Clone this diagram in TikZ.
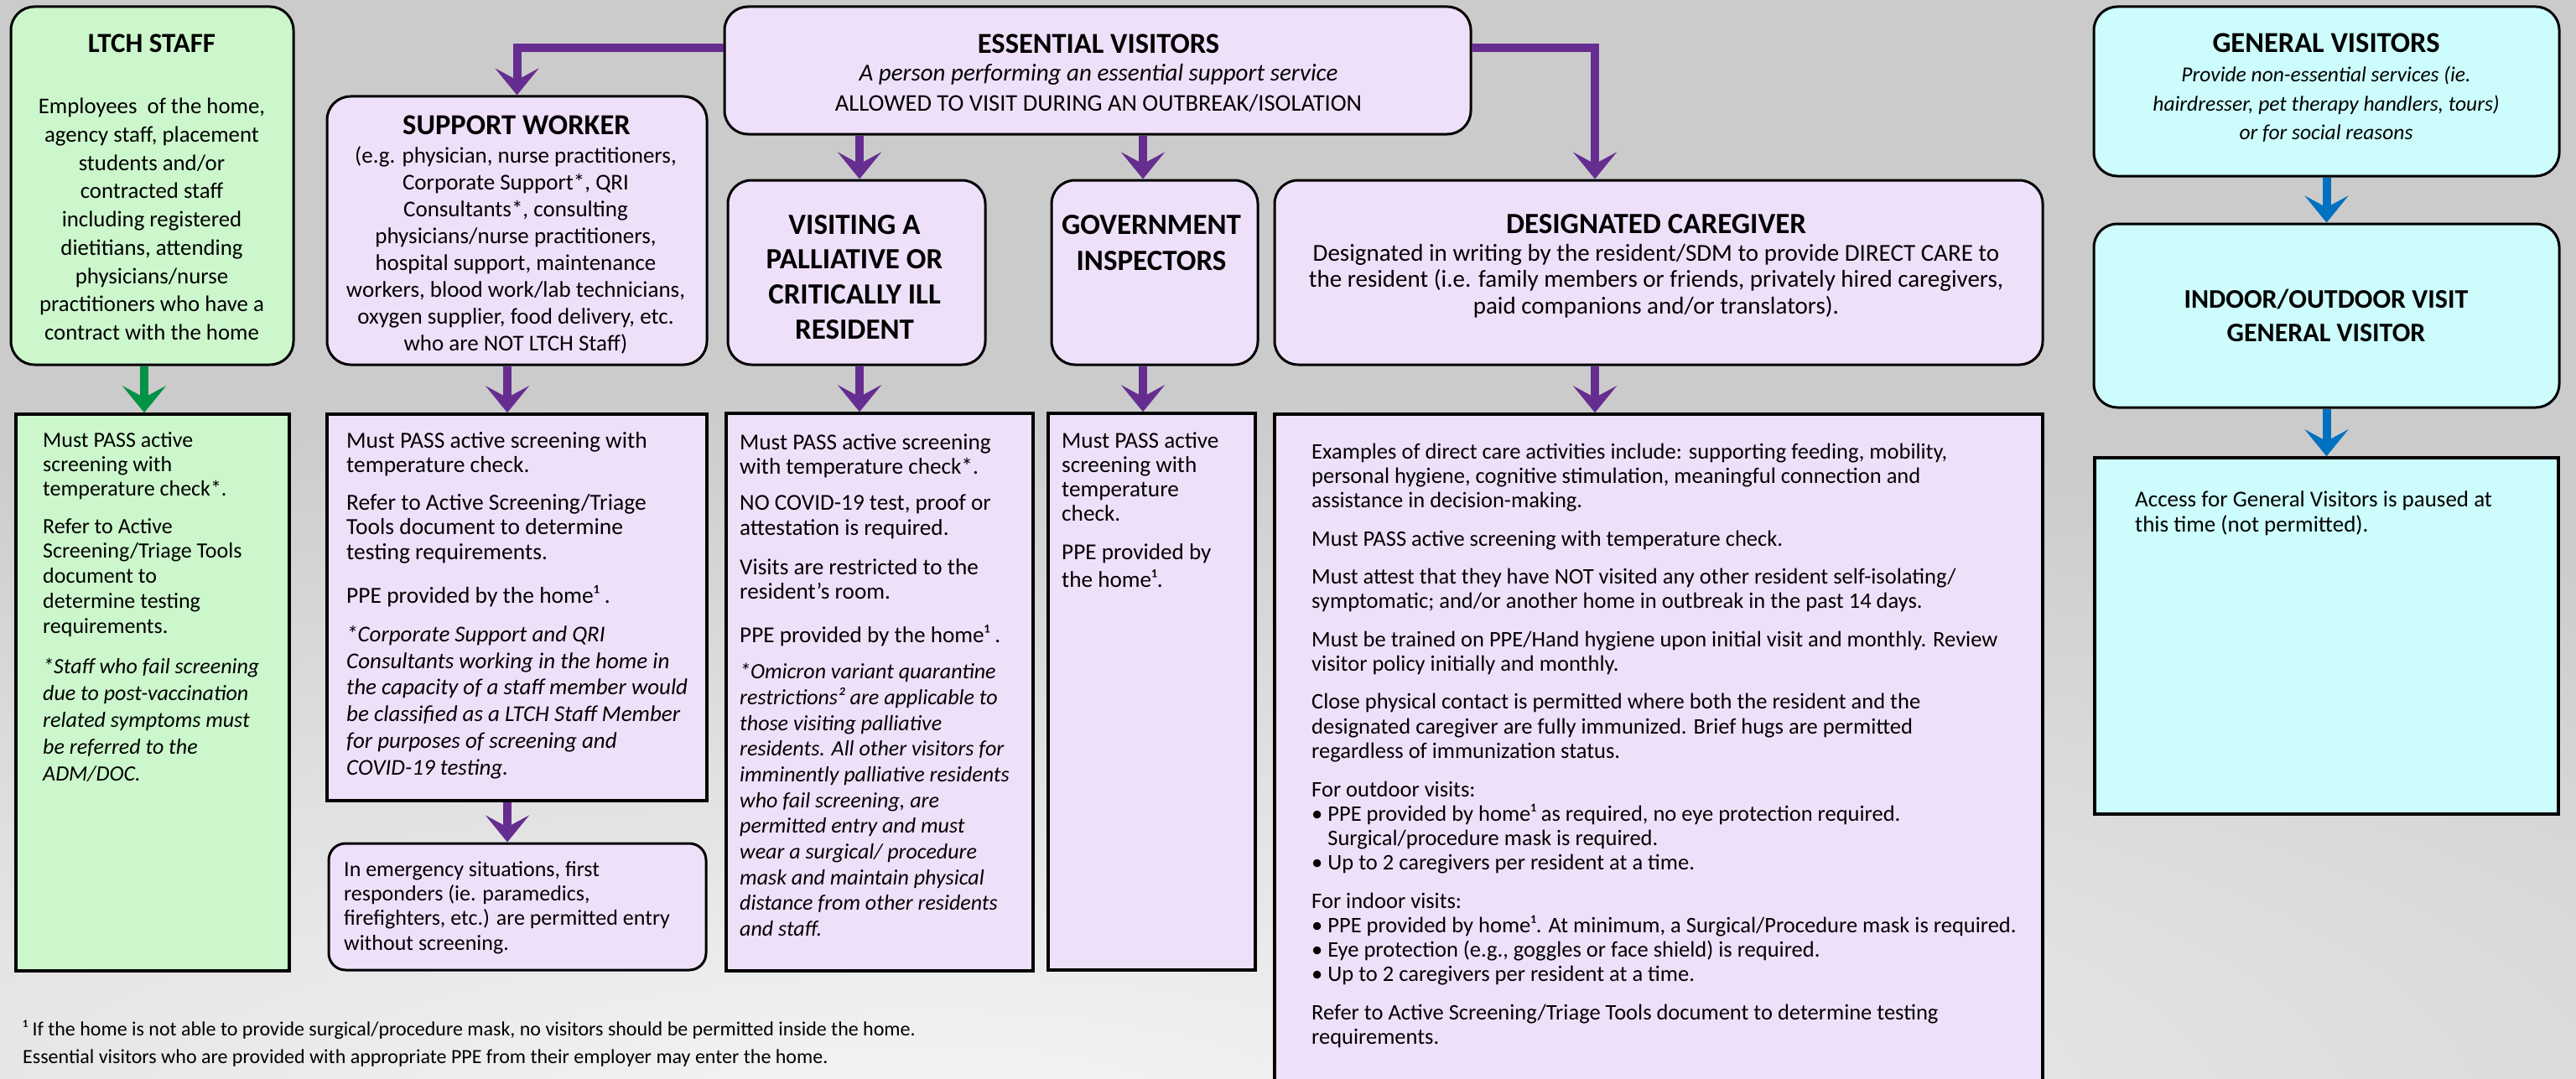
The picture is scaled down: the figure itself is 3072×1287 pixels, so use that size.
\documentclass[tikz,border=0pt]{standalone}
\usepackage{fontspec}
\setmainfont{Carlito}
\usetikzlibrary{arrows.meta,calc}
\definecolor{bgc}{HTML}{CBCBCB}
\definecolor{gfill}{HTML}{CCF7CC}
\definecolor{pfill}{HTML}{EFE0FA}
\definecolor{cfill}{HTML}{CCFCFC}
\definecolor{parr}{HTML}{662D91}
\definecolor{garr}{HTML}{009245}
\definecolor{barr}{HTML}{0070C0}
\newcommand\fsz[2]{\fontsize{#1}{#2}\selectfont}
\begin{document}
\begin{tikzpicture}[x=1pt,y=-1pt,
  rbox/.style={draw=black, line width=3pt, rounded corners=28pt, inner sep=0pt},
  sbox/.style={draw=black, line width=3.5pt, inner sep=0pt},
  arr/.style={line width=10pt, -{Stealth[length=32pt,width=52pt,inset=14pt]}},
  ttl/.style={font=\bfseries\fsz{34.5}{42}, align=center, inner sep=0pt},
  ctxt/.style={align=center, inner sep=0pt, anchor=north},
  ltxt/.style={align=left, inner sep=0pt, anchor=north west},
]
\useasboundingbox (0,0) rectangle (3072,1287);
\clip (0,0) rectangle (3072,1287);
% background
\fill[bgc] (0,0) rectangle (3072,1287);
\shade[inner color=white!96!black, outer color=bgc] (1100,1330) ellipse [x radius=3200, y radius=860];

% ---------- boxes ----------
\node[rbox, fill=gfill, minimum width=337pt, minimum height=427pt] (ltch) at (181.5,221.5) {};
\node[sbox, fill=gfill, minimum width=326pt, minimum height=664pt] (ltchL) at (182,826) {};
\node[rbox, fill=pfill, minimum width=453pt, minimum height=320pt] (sw) at (616.5,275) {};
\node[sbox, fill=pfill, minimum width=453pt, minimum height=461pt] (swL) at (616.5,724.5) {};
\node[rbox, fill=pfill, rounded corners=20pt, minimum width=450pt, minimum height=151pt] (em) at (617,1081.5) {};
\node[rbox, fill=pfill, minimum width=890pt, minimum height=152pt] (ess) at (1309,84) {};
\node[rbox, fill=pfill, minimum width=307pt, minimum height=220pt] (pal) at (1021.5,325) {};
\node[sbox, fill=pfill, minimum width=366pt, minimum height=665pt] (palL) at (1049,825.5) {};
\node[rbox, fill=pfill, minimum width=246pt, minimum height=220pt] (gov) at (1377,325) {};
\node[sbox, fill=pfill, minimum width=247pt, minimum height=664pt] (govL) at (1373.5,825) {};
\node[rbox, fill=pfill, minimum width=916pt, minimum height=220pt] (des) at (1978,325) {};
\node[sbox, fill=pfill, minimum width=916pt, minimum height=806pt] (desL) at (1978,897) {};
\node[rbox, fill=cfill, minimum width=555pt, minimum height=202pt] (gen) at (2774.5,109) {};
\node[rbox, fill=cfill, minimum width=555pt, minimum height=219pt] (ind) at (2774.5,376.5) {};
\node[sbox, fill=cfill, minimum width=553pt, minimum height=425pt] (genL) at (2774.5,758.5) {};

% ---------- connectors ----------
\draw[arr, garr] ([xshift=-9.5pt]ltch.south) -- ([xshift=-9.5pt]ltch.south |- ltchL.north);
\draw[arr, parr] ([yshift=27pt]ess.west) -| (sw.north);
\draw[arr, parr] ([yshift=27pt]ess.east) -| ([xshift=-76pt]des.north);
\draw[arr, parr] ([xshift=3.5pt]pal.north |- ess.south) -- ([xshift=3.5pt]pal.north);
\draw[arr, parr] ([xshift=-14pt]gov.north |- ess.south) -- ([xshift=-14pt]gov.north);
\draw[arr, parr] ([xshift=3.5pt]pal.south) -- ([xshift=3.5pt]pal.south |- palL.north);
\draw[arr, parr] ([xshift=-14pt]gov.south) -- ([xshift=-14pt]gov.south |- govL.north);
\draw[arr, parr] ([xshift=-11.5pt]sw.south) -- ([xshift=-11.5pt]sw.south |- swL.north);
\draw[arr, parr] ([xshift=-11.5pt]swL.south) -- ([xshift=-11.5pt]swL.south |- em.north);
\draw[arr, parr] ([xshift=-76pt]des.south) -- ([xshift=-76pt]des.south |- desL.north);
\draw[arr, barr] (gen.south) -- (ind.north);
\draw[arr, barr] (ind.south) -- (genL.north);

% ---------- LTCH staff ----------
\node[ttl, font=\bfseries\fsz{33}{40}] (ltchT) at (181,52) {LTCH STAFF};
\node[ctxt, font=\fsz{26.8}{33.7}] (ltchB) at (181,117) {Employees\ \ of the home,\\agency staff, placement\\students and/or\\contracted staff\\including registered\\dietitians, attending\\physicians/nurse\\practitioners who have a\\contract with the home};
\node[ltxt, font=\fsz{26}{29.2}] (ltchP1) at (51,515) {Must PASS active\\screening with\\temperature check*.};
\node[ltxt, font=\fsz{26}{29.75}] (ltchP2) at (51,618) {Refer to Active\\Screening/Triage Tools\\document to\\determine testing\\requirements.};
\node[ltxt, font=\itshape\fsz{26}{32}] (ltchP3) at (51,785) {*Staff who fail screening\\due to post-vaccination\\related symptoms must\\be referred to the\\ADM/DOC.};

% ---------- Support worker ----------
\node[ttl] (swT) at (616,149) {SUPPORT WORKER};
\node[ctxt, font=\fsz{27}{31.9}] (swB) at (615,175) {(e.g. physician, nurse practitioners,\\Corporate Support*, QRI\\Consultants*, consulting\\physicians/nurse practitioners,\\hospital support, maintenance\\workers, blood work/lab technicians,\\oxygen supplier, food delivery, etc.\\who are NOT LTCH Staff)};
\node[ltxt, font=\fsz{27.5}{29}] (swP1) at (413,515) {Must PASS active screening with\\temperature check.};
\node[ltxt, font=\fsz{27.5}{29.5}] (swP2) at (413,589) {Refer to Active Screening/Triage\\Tools document to determine\\testing requirements.};
\node[ltxt, font=\fsz{27.5}{29}] (swP3) at (413,698) {PPE provided by the home¹ .};
\node[ltxt, font=\itshape\fsz{27}{31.8}] (swP4) at (413,746) {*Corporate Support and QRI\\Consultants working in the home in\\the capacity of a staff member would\\be classified as a LTCH Staff Member\\for purposes of screening and\\COVID-19 testing.};
\node[ltxt, font=\fsz{26}{29.3}] (emT) at (410,1027) {In emergency situations, first\\responders (ie. paramedics,\\firefighters, etc.) are permitted entry\\without screening.};

% ---------- Essential visitors ----------
\node[ttl] (essT) at (1310,52) {ESSENTIAL VISITORS};
\node[inner sep=0pt, font=\itshape\fsz{29}{32}] (essI) at (1310,89) {A person performing an essential support service};
\node[inner sep=0pt, font=\fsz{28.5}{32}] (essC) at (1310,123) {ALLOWED TO VISIT DURING AN OUTBREAK/ISOLATION};

% ---------- Palliative ----------
\node[ttl, anchor=north, font=\bfseries\fsz{35}{41.7}] (palT) at (1019,256) {VISITING A\\PALLIATIVE OR\\CRITICALLY ILL\\RESIDENT};
\node[ltxt, font=\fsz{27.2}{29}] (palP1) at (882,517) {Must PASS active screening\\with temperature check*.};
\node[ltxt, font=\fsz{27.2}{30}] (palP2) at (882,590) {NO COVID-19 test, proof or\\attestation is required.};
\node[ltxt, font=\fsz{27.2}{29}] (palP3) at (882,666) {Visits are restricted to the\\resident’s room.};
\node[ltxt, font=\fsz{27.2}{29}] (palP4) at (882,745) {PPE provided by the home¹ .};
\node[ltxt, font=\itshape\fsz{26}{30.7}] (palP5) at (882,791) {*Omicron variant quarantine\\restrictions² are applicable to\\those visiting palliative\\residents. All other visitors for\\imminently palliative residents\\who fail screening, are\\permitted entry and must\\wear a surgical/ procedure\\mask and maintain physical\\distance from other residents\\and staff.};

% ---------- Government inspectors ----------
\node[ttl, anchor=north, font=\bfseries\fsz{35}{43}] (govT) at (1373,256) {GOVERNMENT\\INSPECTORS};
\node[ltxt, font=\fsz{27.2}{29.3}] (govP1) at (1266,515) {Must PASS active\\screening with\\temperature\\check.};
\node[ltxt, font=\fsz{27.2}{33}] (govP2) at (1266,648) {PPE provided by\\the home¹.};

% ---------- Designated caregiver ----------
\node[ttl, font=\bfseries\fsz{35}{42}] (desT) at (1975,267) {DESIGNATED CAREGIVER};
\node[ctxt, font=\fsz{29}{31.5}] (desB) at (1975,291) {Designated in writing by the resident/SDM to provide DIRECT CARE to\\the resident (i.e. family members or friends, privately hired caregivers,\\paid companions and/or translators).};
\node[ltxt, font=\fsz{26.5}{29}] (desP1) at (1564,529) {Examples of direct care activities include: supporting feeding, mobility,\\personal hygiene, cognitive stimulation, meaningful connection and\\assistance in decision-making.};
\node[ltxt, font=\fsz{26.5}{29}] (desP2) at (1564,633) {Must PASS active screening with temperature check.};
\node[ltxt, font=\fsz{26.5}{29}] (desP3) at (1564,678) {Must attest that they have NOT visited any other resident self-isolating/\\symptomatic; and/or another home in outbreak in the past 14 days.};
\node[ltxt, font=\fsz{26.5}{29}] (desP4) at (1564,753) {Must be trained on PPE/Hand hygiene upon initial visit and monthly. Review\\visitor policy initially and monthly.};
\node[ltxt, font=\fsz{26.5}{29.5}] (desP5) at (1564,827) {Close physical contact is permitted where both the resident and the\\designated caregiver are fully immunized. Brief hugs are permitted\\regardless of immunization status.};
\node[ltxt, font=\fsz{26.5}{29}] (desP6) at (1564,932) {For outdoor visits:\\• PPE provided by home¹ as required, no eye protection required.\\\hphantom{• }Surgical/procedure mask is required.\\• Up to 2 caregivers per resident at a time.};
\node[ltxt, font=\fsz{26.5}{29}] (desP7) at (1564,1065) {For indoor visits:\\• PPE provided by home¹. At minimum, a Surgical/Procedure mask is required.\\• Eye protection (e.g., goggles or face shield) is required.\\• Up to 2 caregivers per resident at a time.};
\node[ltxt, font=\fsz{26.5}{29}] (desP8) at (1564,1198) {Refer to Active Screening/Triage Tools document to determine testing\\requirements.};

% ---------- General visitors ----------
\node[ttl] (genT) at (2774,51) {GENERAL VISITORS};
\node[ctxt, font=\itshape\fsz{25.5}{34.5}] (genB) at (2774,79) {Provide non-essential services (ie.\\hairdresser, pet therapy handlers, tours)\\or for social reasons};
\node[ttl, anchor=north, font=\bfseries\fsz{32}{40}] (indT) at (2774,345) {INDOOR/OUTDOOR VISIT\\GENERAL VISITOR};
\node[ltxt, font=\fsz{27}{30}] (genP) at (2546,586) {Access for General Visitors is paused at\\this time (not permitted).};

% ---------- footnote ----------
\node[ltxt, font=\fsz{24}{33}] (foot) at (27,1217) {¹ If the home is not able to provide surgical/procedure mask, no visitors should be permitted inside the home.\\Essential visitors who are provided with appropriate PPE from their employer may enter the home.};
\end{tikzpicture}
\end{document}
